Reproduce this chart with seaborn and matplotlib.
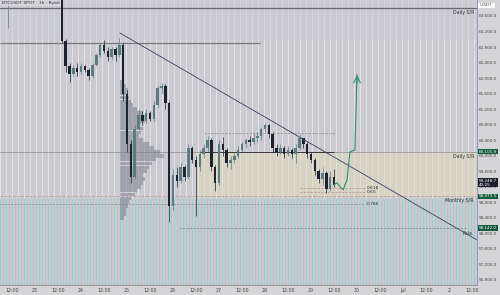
import matplotlib.pyplot as plt
import numpy as np
import seaborn as sns

# 2h candles, hours counted from 22 Jun 00:00
hours = np.arange(6, 182, 2)
closes = [64250, 64150, 64150, 64300, 64400, 64500, 64450, 64600, 64550, 64400,
          64500, 64350, 64250, 64300, 64150, 64150, 62950, 62300, 62100, 62250,
          62150, 62300, 62200, 62050, 62350, 62600, 62850, 62700, 62550, 62750,
          62600, 62850, 61600, 60300, 59450, 60700, 61050, 60900, 61100, 60950,
          61300, 61750, 61800, 61350, 58700, 59500, 59350, 59700, 59450, 60200,
          59900, 59700, 60050, 60200, 60400, 59700, 59300, 60300, 60150, 59800,
          59900, 60000, 60150, 60300, 60400, 60350, 60450, 60500, 60700, 60800,
          60550, 60200, 60100, 60200, 60050, 60150, 60050, 60200, 60450, 60300,
          60050, 59900, 59600, 59400, 59550, 59150, 59450, 59250]
highs = [64450, 64350, 64400, 64450, 64550, 64650, 64600, 64700, 64700, 64650,
         64600, 64550, 64450, 64400, 64400, 64300, 64300, 63000, 62400, 62350,
         62400, 62380, 62350, 62250, 62400, 62650, 62900, 62980, 62800, 62800,
         62800, 63030, 62900, 61700, 60400, 60800, 61200, 61150, 61200, 61150,
         61400, 61800, 61880, 61850, 61400, 59650, 59700, 59800, 59750, 60300,
         60250, 60000, 60150, 60300, 60500, 60450, 59750, 60400, 60480, 60200,
         60000, 60100, 60250, 60350, 60450, 60500, 60550, 60600, 60750, 60850,
         60820, 60600, 60300, 60300, 60250, 60250, 60200, 60300, 60550, 60450,
         60350, 60100, 59950, 59650, 59700, 59600, 59600, 59650]
lows = [64100, 63950, 63300, 64100, 64250, 64350, 64300, 64400, 64400, 64350,
        64350, 64300, 64200, 64200, 64100, 64050, 62900, 62150, 61900, 62050,
        62050, 62100, 62150, 61950, 62000, 62300, 62550, 62650, 62450, 62500,
        62450, 62550, 61400, 60100, 59300, 59400, 60650, 60800, 60850, 60900,
        60900, 61250, 61600, 61200, 58300, 58600, 59200, 59300, 59350, 59400,
        59800, 58450, 59600, 59950, 60100, 59600, 59100, 59250, 60000, 59700,
        59650, 59800, 59950, 60100, 60200, 60250, 60300, 60350, 60400, 60600,
        60450, 60100, 60000, 60050, 59950, 60000, 59950, 59800, 60150, 60200,
        59950, 59800, 59500, 59300, 59250, 59050, 59100, 59200]
first_open = 64300

# projected path (green arrow)
proj_hours = [180, 181.5, 184.7, 186.8, 188.3, 190.9, 192.0]
proj_prices = [59250, 59300, 59118, 59376, 60097, 60148, 62094]

# descending trendline
trend_hours = [68.3, 254.6]
trend_prices = [63162, 57830]

# volume profile (fixed range)
vp_prices = np.arange(58400, 62000, 100)
vp_widths = [2, 3, 3, 4, 5, 6, 8, 9, 11, 12, 13, 12, 14, 15, 17, 19, 23, 21,
             18, 15, 12, 10, 11, 12, 10, 13, 14, 12, 9, 7, 6, 5, 4, 4, 3, 2]
vp_start = 68.3

# levels
daily_top = 63805
daily_mid = 62900
zone_low, zone_high = 58973.5, 60105.9
dash_upper = 60586
fib_levels = [59170, 59066, 58757]
fib_names = ["0.618", "0.65", "0.786"]
low_target = 58142.0
last_price = 59248.7

x_ticks = np.arange(12, 253, 12)
x_labels = ["12:00", "23", "12:00", "24", "12:00", "25", "12:00", "26", "12:00",
            "27", "12:00", "28", "12:00", "29", "12:00", "30", "12:00", "Jul",
            "12:00", "2", "12:00"]
y_ticks = np.arange(56800, 63700, 400)

sns.set_theme(style="white")
plt.rcParams['font.family'] = ['DejaVu Sans']

xmin, xmax = 5.74, 254.6
ymin, ymax = 56670, 64012

fig = plt.figure(figsize=(5, 2.95), dpi=100, facecolor='#d5d5d7')
ax = fig.add_axes([0, 0.034, 0.954, 0.966])
ax.set_facecolor('#cbcbcf')

# striped background
stripes = np.arange(xmin, xmax, 1.565)
ax.vlines(stripes[::2], ymin, ymax, color='#e2e2e6', lw=0.75, zorder=0)
ax.vlines(stripes[::2], 63000, ymax, color='#c9c9ee', lw=0.75, zorder=0, alpha=0.6)
ax.vlines(stripes[::2], ymin, 58900, color='#8fd3dc', lw=0.75, zorder=0)
ax.vlines(stripes[1::2], ymin, 58900, color='#b9c3c4', lw=0.75, zorder=0)

# daily S/R zone
ax.fill_between([107.5, xmax], zone_low, zone_high, color='#e4dcb8', alpha=0.45, lw=0, zorder=0.5)

# horizontal levels
ax.axhline(daily_top, color='#6b6b6b', lw=0.9, zorder=1)
ax.hlines(daily_mid, xmin, 141.4, color='#7a7a7a', lw=0.9, zorder=1)
ax.axhline(zone_high, color='#8a8a8a', lw=0.5, zorder=1)
ax.hlines(zone_high, 110, 180, color='#3a3a3a', lw=0.7, zorder=1)
ax.axhline(zone_low, color='#c49a9a', lw=0.6, ls=(0, (3, 2)), zorder=1)
ax.hlines(dash_upper, 112, 180, color='#8a8a8a', lw=0.5, ls=(0, (3, 2)), zorder=1)
ax.hlines(fib_levels[:2], 162, 196, color='#b08a8a', lw=0.5, ls=(0, (3, 2)), zorder=1)
ax.hlines(fib_levels[2], xmin, 196, color='#8a8a8a', lw=0.5, ls=(0, (3, 2)), zorder=1)
ax.hlines(low_target, 99, 249, color='#7a7a7a', lw=0.5, ls=(0, (3, 2)), zorder=1)
for lvl, name in zip(fib_levels, fib_names):
    ax.text(197, lvl, name, fontsize=3.2, color='#333333', va='center', zorder=5)

# volume profile
ax.barh(vp_prices, vp_widths, left=vp_start, height=95, color='#7c7f8e', alpha=0.55, lw=0, zorder=2)

# candles
opens = [first_open] + closes[:-1]
up = np.array(closes) >= np.array(opens)
colors = np.where(up, '#5d7c82', '#1d232e')
ax.vlines(hours, lows, highs, color=colors, lw=0.5, zorder=3)
bottoms = np.minimum(opens, closes)
heights = np.maximum(np.abs(np.array(closes) - np.array(opens)), 15)
ax.bar(hours, heights, bottom=bottoms, width=1.3, color=colors, lw=0, zorder=3)

# trendline and projection
sns.lineplot(x=trend_hours, y=trend_prices, color='#3c4060', lw=0.6, ax=ax, zorder=4)
sns.lineplot(x=proj_hours, y=proj_prices, color='#2f8f72', lw=0.8, sort=False, ax=ax, zorder=4)
ax.annotate('', xy=(proj_hours[-1], proj_prices[-1] + 60), xytext=(proj_hours[-1], proj_prices[-1] - 300),
            arrowprops=dict(arrowstyle='->', color='#2f8f72', lw=0.8), zorder=4)

# level names
ax.text(253, daily_top - 50, "Daily S/R", fontsize=3.4, color='#333333', ha='right', va='top')
ax.text(253, zone_high - 50, "Daily S/R", fontsize=3.4, color='#333333', ha='right', va='top')
ax.text(253, zone_low - 50, "Monthly S/R", fontsize=3.4, color='#333333', ha='right', va='top')
ax.text(253, low_target - 80, "Pola.", fontsize=3.4, color='#333333', ha='right', va='top')
ax.text(7, ymax - 30, "BTCUSDT SPOT · 1h · Bybit", fontsize=3.2, color='#333333', va='top',
        bbox=dict(boxstyle='square,pad=0.2', fc='#d8d8dc', ec='none', alpha=0.8), zorder=6)

ax.set_xlim(xmin, xmax)
ax.set_ylim(ymin, ymax)
ax.yaxis.tick_right()
ax.set_yticks(y_ticks)
ax.set_yticklabels([f"{v:,.1f}" for v in y_ticks], fontsize=3.0, color='#444444')
ax.set_xticks(x_ticks)
ax.set_xticklabels(x_labels, fontsize=3.4, color='#444444')
ax.tick_params(axis='y', length=0, pad=1.2)
ax.tick_params(axis='x', length=0, pad=2)
for s in ['top', 'left']:
    ax.spines[s].set_visible(False)
ax.spines['right'].set_color('#9a9ad0')
ax.spines['right'].set_linewidth(0.8)
ax.spines['bottom'].set_color('#8a8a8a')
ax.spines['bottom'].set_linewidth(0.6)

# price labels on the axis
def tag(price, text, fc, tc='white'):
    ax.annotate(text, xy=(1.0, price), xycoords=('axes fraction', 'data'), xytext=(1.2, 0),
                textcoords='offset points', fontsize=3.0, color=tc, va='center', ha='left',
                linespacing=1.0,
                bbox=dict(boxstyle='square,pad=0.2', fc=fc, ec='none'), zorder=10,
                annotation_clip=False)

tag(zone_high, f"{zone_high:,.1f}", '#145c3c')
tag(last_price + 60, f"{last_price:,.1f}\n40:25", '#1c1f2b')
tag(zone_low - 20, f"{zone_low:,.1f}", '#145c3c')
tag(low_target, f"{low_target:,.1f}", '#145c3c')
tag(ymax - 140, " USDT  ", 'white', '#444444')

fig.savefig('out.png', dpi=100, facecolor=fig.get_facecolor())
